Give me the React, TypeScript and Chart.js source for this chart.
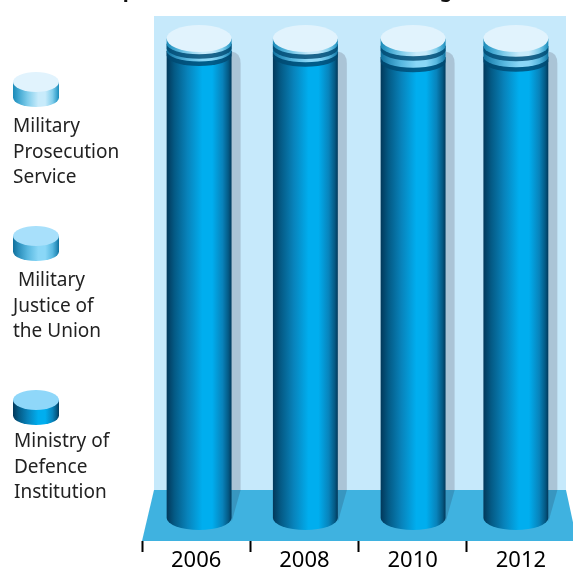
import React, { useEffect, useRef } from "react";
import { Chart, registerables } from "chart.js";

Chart.register(...registerables);

// Share of the budget by institution, in percent of the yearly total.
const years = ["2006", "2008", "2010", "2012"];
const prosecutionService = [1.1, 1.15, 1.5, 1.6];
const justiceOfUnion = [1.5, 1.6, 2.4, 2.2];
const defenceInstitution = [97.4, 97.25, 96.1, 96.2];

const prosecutionLabel = ["Military", "Prosecution", "Service"];
const justiceLabel = [" Military", "Justice of", "the Union"];
const defenceLabel = ["Ministry of", "Defence", "Institution"];

const FONT = '"Noto Sans", sans-serif';

type Tone = { edge: string; shade: string; mid: string; glow: string; lid: string };
const TONES: Tone[] = [
  { edge: "#02385a", shade: "#045a85", mid: "#0883bb", glow: "#00aeef", lid: "#8fd7f9" },
  { edge: "#0f6f9b", shade: "#2b8fbc", mid: "#58b8e0", glow: "#8ad7f7", lid: "#a8e0fb" },
  { edge: "#1a8ab8", shade: "#3fa6d0", mid: "#80cdeb", glow: "#c8ebfb", lid: "#e1f3fd" },
];

// Small per-column drift of the drawn cylinders around their category centre.
const COLUMN_DRIFT = [3, 1, 0.5, -5];
const LID_RY = 13.5;
const RING_RY = 10.5;
const BASE_RY = 12;

function wallGradient(ctx: CanvasRenderingContext2D, l: number, r: number, t: Tone) {
  const g = ctx.createLinearGradient(l, 0, r, 0);
  g.addColorStop(0, t.edge);
  g.addColorStop(0.12, t.shade);
  g.addColorStop(0.32, t.mid);
  g.addColorStop(0.55, t.glow);
  g.addColorStop(0.7, t.glow);
  g.addColorStop(0.86, t.mid);
  g.addColorStop(0.95, t.shade);
  g.addColorStop(1, t.edge);
  return g;
}

function wallPath(ctx: CanvasRenderingContext2D, l: number, r: number, top: number, bottom: number, ry: number) {
  const cx = (l + r) / 2;
  ctx.beginPath();
  ctx.moveTo(l, top);
  ctx.lineTo(l, bottom);
  ctx.ellipse(cx, bottom, (r - l) / 2, ry, 0, Math.PI, 0, true);
  ctx.lineTo(r, top);
  ctx.closePath();
}

function lid(ctx: CanvasRenderingContext2D, l: number, r: number, y: number, ry: number, color: string) {
  ctx.beginPath();
  ctx.ellipse((l + r) / 2, y, (r - l) / 2, ry, 0, 0, Math.PI * 2);
  ctx.fillStyle = color;
  ctx.fill();
}

function legendEntry(
  ctx: CanvasRenderingContext2D,
  tone: Tone,
  lidY: number,
  lines: string[],
  textX: number,
  firstBaseline: number,
) {
  const l = 13;
  const r = 59;
  wallPath(ctx, l, r, lidY, lidY + 15.5, 9.5);
  ctx.fillStyle = wallGradient(ctx, l, r, tone);
  ctx.fill();
  lid(ctx, l, r, lidY, 10, tone.lid);
  ctx.fillStyle = "#222";
  ctx.font = `19px ${FONT}`;
  ctx.textAlign = "left";
  ctx.textBaseline = "alphabetic";
  lines.forEach((line, i) => ctx.fillText(line, textX, firstBaseline + i * 25.5));
}

const stagePlugin = {
  id: "stage",
  beforeDatasetsDraw(chart: Chart) {
    const { ctx, chartArea: a } = chart;
    const floorTop = 490;
    const panelLeft = a.left + 12;
    const panelRight = 566;
    ctx.save();
    ctx.fillStyle = "#c6e9fb";
    ctx.fillRect(panelLeft, a.top, panelRight - panelLeft, floorTop - a.top);
    ctx.fillStyle = "#3fb2e0";
    ctx.beginPath();
    ctx.moveTo(panelLeft, floorTop);
    ctx.lineTo(panelRight, floorTop);
    ctx.lineTo(panelRight + 11, a.bottom);
    ctx.lineTo(a.left, a.bottom);
    ctx.closePath();
    ctx.fill();
    ctx.restore();
  },
};

const cylinderPlugin = {
  id: "cylinders",
  afterDatasetsDraw(chart: Chart) {
    const { ctx } = chart;
    const metas = [0, 1, 2].map((i) => chart.getDatasetMeta(i));
    ctx.save();
    years.forEach((_, i) => {
      const bars = metas.map((m) => m.data[i] as any);
      const cx = bars[0].x + COLUMN_DRIFT[i];
      const half = bars[0].width / 2;
      const l = cx - half;
      const r = cx + half;
      const topY = bars[2].y;

      // Cast shadow: up the back panel, then slanting across the floor.
      ctx.beginPath();
      ctx.moveTo(r, topY + 13);
      ctx.quadraticCurveTo(r + 9, topY + 14, r + 9, topY + 25);
      ctx.lineTo(r + 9, 490);
      ctx.lineTo(r, 522);
      ctx.closePath();
      ctx.fillStyle = "rgba(23,8,26,0.16)";
      ctx.fill();

      // Segments are painted bottom-up so each one overlaps the one beneath it.
      bars.forEach((bar, s) => {
        const top = bar.y;
        const bottom = bar.base;
        const ry = s === 0 ? BASE_RY : RING_RY;
        wallPath(ctx, l, r, top, bottom, ry);
        ctx.fillStyle = wallGradient(ctx, l, r, TONES[s]);
        ctx.fill();
        if (s < 2) {
          // Dark contact ring where the next segment rests on this one.
          wallPath(ctx, l, r, top, top + 4.5, RING_RY);
          ctx.fillStyle = "rgba(0,72,112,0.8)";
          ctx.fill();
        }
      });
      lid(ctx, l, r, topY, LID_RY, TONES[2].lid);
    });

    legendEntry(ctx, TONES[2], 82, prosecutionLabel, 13, 132);
    legendEntry(ctx, TONES[1], 236, justiceLabel, 13, 286);
    legendEntry(ctx, TONES[0], 400, defenceLabel, 14, 447);

    // Only the descenders of the heading fall inside the page.
    ctx.fillStyle = "#111";
    ctx.font = `bold 20px ${FONT}`;
    ctx.textAlign = "center";
    ctx.fillText("p", 129, -3);
    ctx.fillText("g", 446, -3);
    ctx.restore();
  },
};

export default function App() {
  const ref = useRef<HTMLCanvasElement>(null);
  useEffect(() => {
    const chart = new Chart(ref.current!, {
      type: "bar",
      data: {
        labels: years,
        datasets: [
          { label: "Ministry of Defence Institution", data: defenceInstitution, backgroundColor: "transparent" },
          { label: "Military Justice of the Union", data: justiceOfUnion, backgroundColor: "transparent" },
          { label: "Military Prosecution Service", data: prosecutionService, backgroundColor: "transparent" },
        ],
      },
      options: {
        responsive: false,
        animation: false,
        layout: { padding: { left: 142, right: 1, top: 16, bottom: 8 } },
        datasets: { bar: { categoryPercentage: 1, barPercentage: 0.6 } },
        plugins: { legend: { display: false }, tooltip: { enabled: false } },
        scales: {
          x: {
            stacked: true,
            border: { display: false },
            grid: { drawOnChartArea: false, tickLength: 11, tickColor: "#000", tickWidth: 2 },
            ticks: {
              color: "#000",
              padding: -2,
              maxRotation: 0,
              font: { family: FONT, size: 22, lineHeight: 1 },
            },
            afterFit: (s: any) => {
              s.height = 31;
            },
          },
          y: { stacked: true, display: false, min: -4.8, max: 104.7 },
        },
      },
      plugins: [stagePlugin, cylinderPlugin],
    });
    return () => chart.destroy();
  }, []);
  return (
    <div style={{ position: "absolute", left: 0, top: 0, width: 573, height: 568, overflow: "hidden", background: "#fff" }}>
      <canvas ref={ref} width={576} height={580} style={{ display: "block" }} />
    </div>
  );
}
